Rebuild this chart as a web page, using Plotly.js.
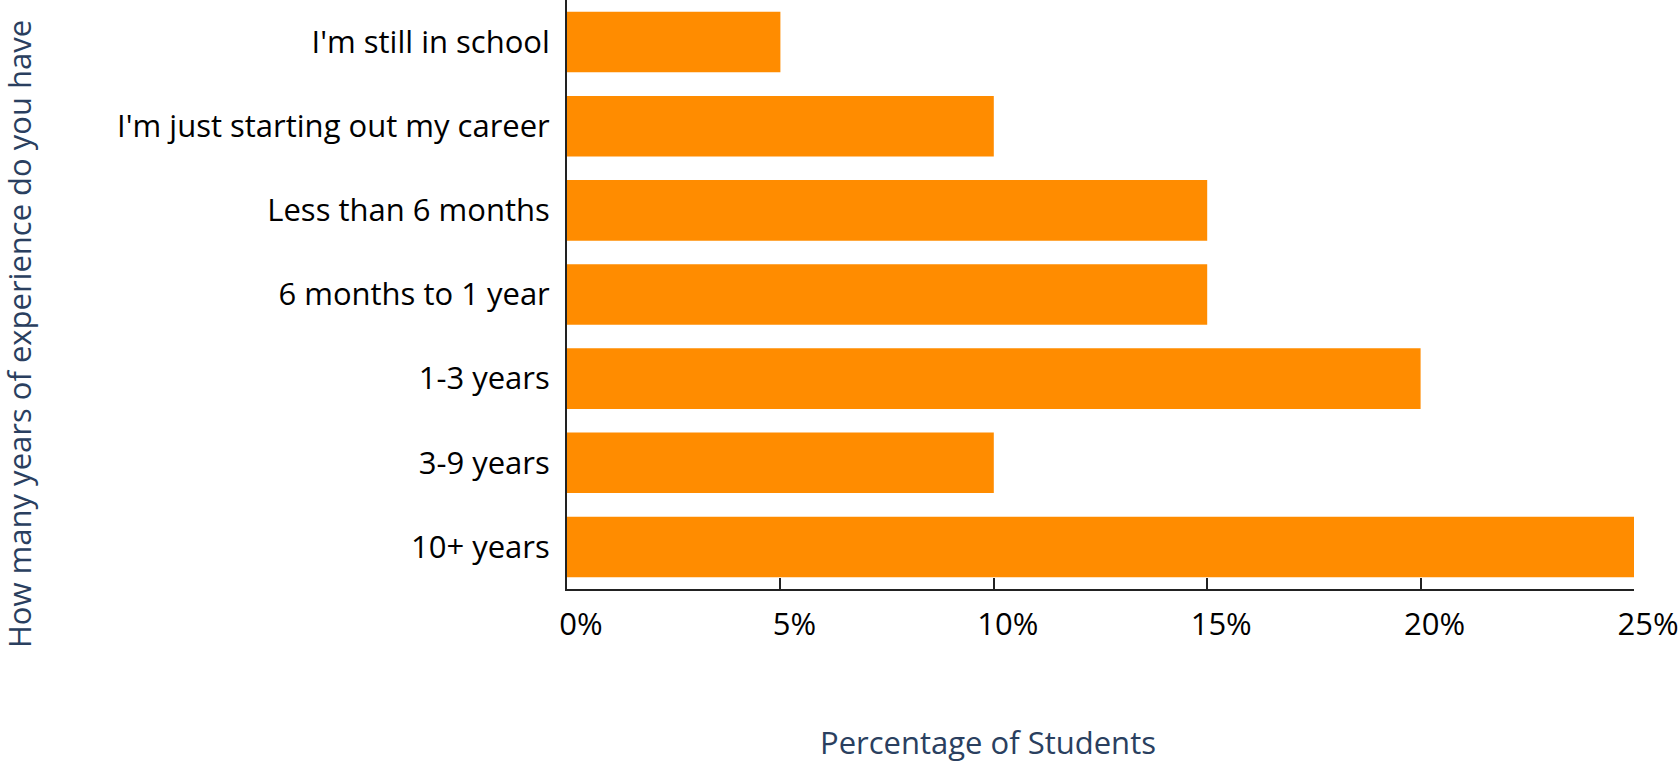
<!DOCTYPE html>
<html>
<head>
<meta charset="utf-8">
<script src="https://cdn.plot.ly/plotly-3.0.1.min.js"></script>
<style>html,body{margin:0;padding:0;background:#fff;}#chart{width:1678px;height:767px;}</style>
</head>
<body>
<div id="chart"></div>
<script>
var categories = ["10+ years", "3-9 years", "1-3 years", "6 months to 1 year", "Less than 6 months", "I'm just starting out my career", "I'm still in school"];
var percentages = [25, 10, 20, 15, 15, 10, 5];
var tickValues = [0, 5, 10, 15, 20, 25];
var tickLabels = ["0%", "5%", "10%", "15%", "20%", "25%"];
var xTitle = "Percentage of Students";
var yTitle = "How many years of experience do you have";

var font = "Open Sans, sans-serif";
var data = [{
  type: "bar",
  orientation: "h",
  y: categories,
  x: percentages,
  marker: {color: "#FF8C00"},
  hoverinfo: "x+y"
}];
var layout = {
  width: 1678, height: 767,
  margin: {l: 567, r: 44, t: 0, b: 178, pad: 0},
  paper_bgcolor: "#fff", plot_bgcolor: "#fff",
  bargap: 0.28,
  showlegend: false,
  font: {family: font, color: "#000"},
  xaxis: {
    range: [0, 25],
    tickvals: tickValues, ticktext: tickLabels,
    ticks: "inside", ticklen: 11, tickwidth: 1.5, tickcolor: "#222",
    showline: true, linecolor: "#222", linewidth: 2,
    showgrid: false, zeroline: false,
    tickfont: {family: font, size: 31, color: "#000"},
    ticklabelstandoff: 7,
    ticklabelshift: 14,
    ticklabeloverflow: "allow"
  },
  yaxis: {
    range: [-0.5, 6.5],
    ticks: "",
    showline: true, linecolor: "#222", linewidth: 2,
    showgrid: false, zeroline: false,
    tickfont: {family: font, size: 31, color: "#000"},
    ticklabelstandoff: 9
  },
  annotations: [
    {text: xTitle, xref: "paper", yref: "paper", x: (988 - 567) / 1067, y: -(742 - 589) / 589,
     xanchor: "center", yanchor: "middle", showarrow: false,
     font: {family: font, size: 31, color: "#2a3f5f"}},
    {text: yTitle, xref: "paper", yref: "paper", x: -(567 - 19) / 1067, y: (589 - 334) / 589,
     xanchor: "center", yanchor: "middle", showarrow: false, textangle: -90,
     font: {family: font, size: 31, color: "#2a3f5f"}}
  ]
};
Plotly.newPlot("chart", data, layout, {displayModeBar: false, responsive: false});
</script>
</body>
</html>
